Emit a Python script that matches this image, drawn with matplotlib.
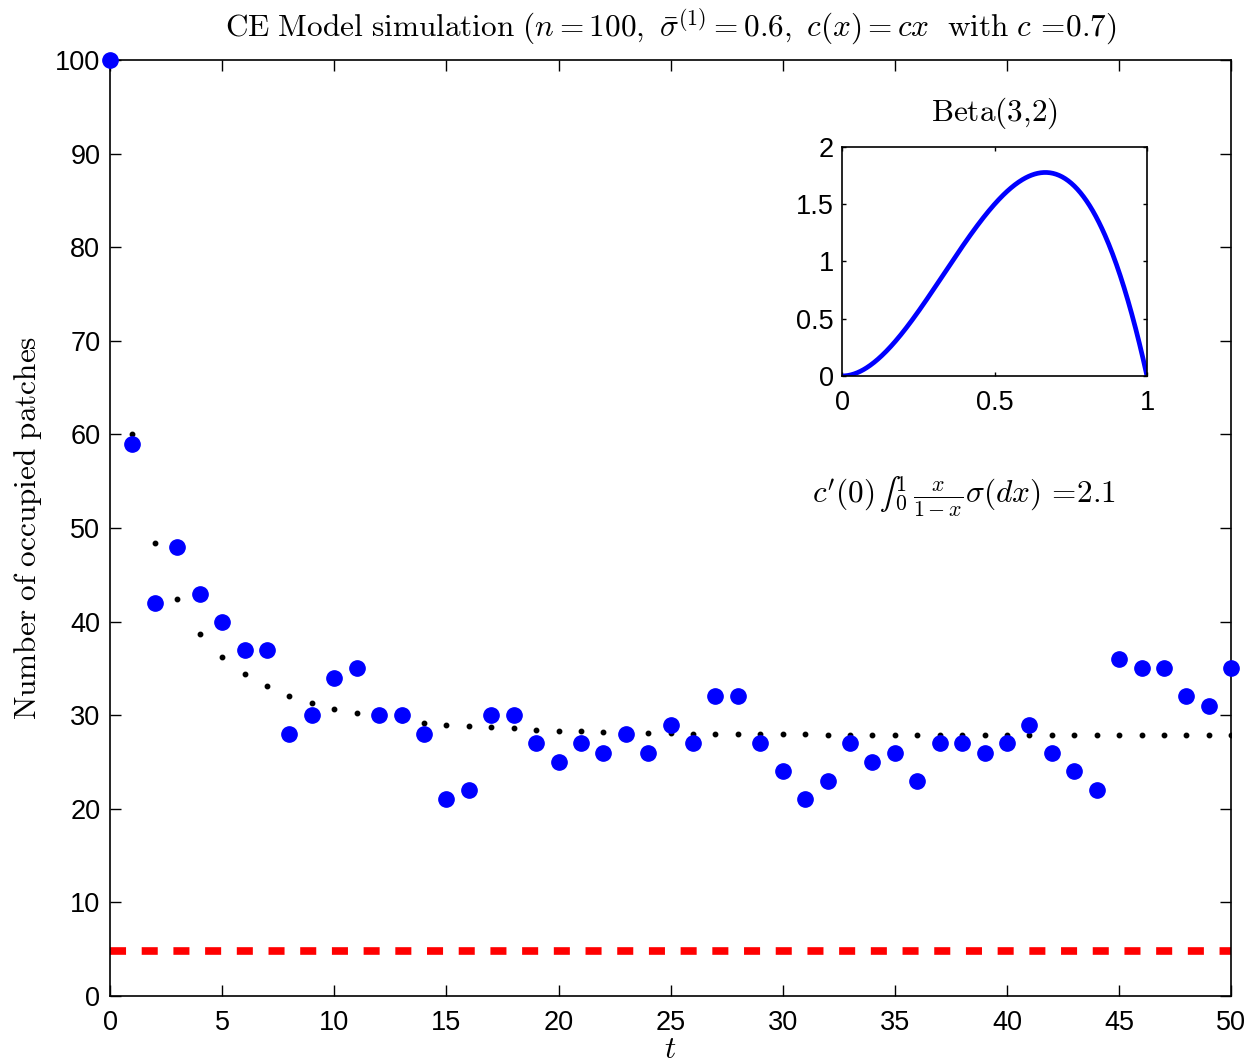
"""
CE model simulation: occupied patches over time, with Beta(3,2) inset.
"""

import matplotlib
matplotlib.use('Agg')
import matplotlib.pyplot as plt
import numpy as np

plt.rcParams['mathtext.fontset'] = 'cm'
plt.rcParams['font.family'] = ['Liberation Sans', 'DejaVu Sans']

# * Simulated number of occupied patches, t = 0..50
t_sim = list(range(51))
occupied = [100, 59, 42, 48, 43, 40, 37, 37, 28, 30,
            34, 35, 30, 30, 28, 21, 22, 30, 30, 27,
            25, 27, 26, 28, 26, 29, 27, 32, 32, 27,
            24, 21, 23, 27, 25, 26, 23, 27, 27, 26,
            27, 29, 26, 24, 22, 36, 35, 35, 32, 31, 35]

# * Deterministic approximation (dotted), t = 1..50
t_det = list(range(1, 51))
expected = [60.0, 48.4, 42.4, 38.7, 36.2, 34.4, 33.1, 32.1, 31.3, 30.7,
            30.2, 29.8, 29.5, 29.2, 29.0, 28.8, 28.7, 28.6, 28.4, 28.35,
            28.3, 28.2, 28.15, 28.1, 28.05, 28.0, 28.0, 28.0, 27.95, 27.95,
            27.95, 27.9, 27.9, 27.9, 27.9, 27.9, 27.9, 27.9, 27.9, 27.9,
            27.9, 27.9, 27.9, 27.9, 27.9, 27.9, 27.9, 27.9, 27.9, 27.9]

# * Extinction threshold level (red dashed)
threshold = 4.8
x_range = [0, 50]

# * Beta(3,2) distribution for the inset
beta_a, beta_b = 3, 2
inset_xticks = [0, 0.5, 1]
inset_yticks = [0, 0.5, 1, 1.5, 2]

CM = 22.5   # size of the LaTeX-like text
TK = 19.5   # size of tick labels

fig = plt.figure(figsize=(12.5, 10.63), dpi=100)
ax = fig.add_axes([0.088, 0.063, 0.897, 0.8806])

ax.plot(x_range, [threshold, threshold], color='red', lw=5.5,
        ls=(0, (2.1, 2.05)), zorder=2)
ax.plot(t_det, expected, 'o', color='black', ms=3.2, zorder=3)
ax.plot(t_sim, occupied, 'o', color='blue', ms=11, mec='blue',
        clip_on=False, zorder=4)

ax.set_xlim(0, 50)
ax.set_ylim(0, 100)
ax.set_xticks(range(0, 51, 5))
ax.set_yticks(range(0, 101, 10))
ax.tick_params(direction='in', length=8, width=1, labelsize=TK,
               top=True, right=True)
ax.tick_params(axis='x', pad=10)
ax.tick_params(axis='y', pad=7)
for sp in ax.spines.values():
    sp.set_linewidth(1.2)

ax.set_title(r'$\mathrm{CE\ Model\ simulation}\ (n=100,\ \bar{\sigma}^{(1)}=0.6,\ '
             r'c(x)=cx\ \ \mathrm{with}\ c\,\mathrm{=}\!0.7)$', fontsize=CM, pad=17)
ax.set_xlabel(r'$t$', fontsize=CM, labelpad=-1)
ax.set_ylabel(r'$\mathrm{Number\ of\ occupied\ patches}$', fontsize=CM, labelpad=8)

ax.text(31.3, 53.3, "$c^{\\prime}(0)\\,\u222b_0^1\\,\\frac{x}{1-x}\\sigma(dx)\\,\\mathrm{=}\\!2.1$",
        fontsize=CM, va='center', ha='left')

# * Inset with the sigma distribution
ins = fig.add_axes([0.6736, 0.6463, 0.244, 0.2154])
xs = np.linspace(0, 1, 400)
pdf = xs ** (beta_a - 1) * (1 - xs) ** (beta_b - 1) * 12
ins.plot(xs, pdf, color='blue', lw=3.4)
ins.set_xlim(0, 1)
ins.set_ylim(0, 2)
ins.set_xticks(inset_xticks)
ins.set_xticklabels(['0', '0.5', '1'])
ins.set_yticks(inset_yticks)
ins.set_yticklabels(['0', '0.5', '1', '1.5', '2'])
ins.tick_params(direction='in', length=3, width=1, labelsize=TK,
                top=True, right=True)
ins.tick_params(axis='x', pad=10)
ins.tick_params(axis='y', pad=6)
for sp in ins.spines.values():
    sp.set_linewidth(1.2)
ins.set_title(r'$\mathrm{Beta(3{,}2)}$', fontsize=CM, pad=19)

fig.savefig('out.png', dpi=100)
